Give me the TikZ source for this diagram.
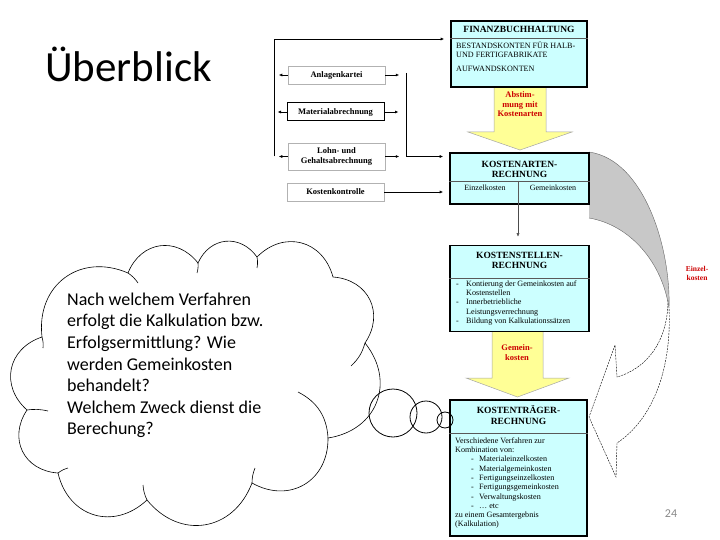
\documentclass[tikz,border=0pt]{standalone}
\usepackage{fontspec}
\setmainfont{Liberation Serif}
\newfontfamily\calib{Carlito}
\usetikzlibrary{arrows.meta}
\definecolor{boxcyan}{RGB}{204,255,255}
\definecolor{arrowyellow}{RGB}{255,255,150}
\definecolor{labelred}{RGB}{204,0,0}
\definecolor{bandgray}{RGB}{200,200,200}
\definecolor{pagenum}{RGB}{137,137,137}
\begin{document}
\begin{tikzpicture}[x=1pt,y=-1pt,
  bigbox/.style={draw=black, line width=1.6pt, fill=boxcyan, inner sep=0pt},
  smallbox/.style={draw=gray!60, line width=0.5pt, fill=white, minimum width=97pt,
     align=center, inner sep=0pt, font=\fontsize{8.5}{9.8}\selectfont\bfseries},
  conn/.style={line width=0.7pt, -{Latex[length=3.5pt,width=3pt]}},
  plainline/.style={line width=0.7pt},
  sepline/.style={line width=0.5pt, draw=gray!70!black},
  titletext/.style={font=\fontsize{9.5}{10.5}\selectfont\bfseries, align=center, inner sep=0pt},
  bodytext/.style={font=\fontsize{8.1}{9.3}\selectfont, align=left, inner sep=0pt, anchor=north west},
  redlabel/.style={font=\fontsize{8.5}{9.4}\selectfont\bfseries, text=labelred, align=center, inner sep=0pt, anchor=north},
  cloudline/.style={draw=black, line width=0.6pt},
  puff/.style={bend left=60, looseness=1.25}
]
\useasboundingbox (0,0) rectangle (720,540);

% title
\node[font=\calib\fontsize{43}{50}\selectfont, anchor=base west, inner sep=0pt] (title) at (45,82) {Überblick};

% cloud
\filldraw[cloudline, fill=white] (42,337) to[puff] (128,273) to[puff] (198,263)
  to[puff] (257,257) to[puff] (333,277) to[puff] (365,343)
  to[puff] (328,438) to[puff] (252,483) to[puff] (147,500)
  to[puff] (58,473) to[puff] (27,410) to[puff] (42,337) -- cycle;
\draw[cloudline] (42,337) to[bend left=10] (43,348);
\draw[cloudline] (128,273) to[bend left=10] (138,283);
\draw[cloudline] (198,263) to[bend left=10] (197,273);
\draw[cloudline] (257,257) to[bend left=10] (257,268);
\draw[cloudline] (365,343) to[bend left=15] (351,366);
\draw[cloudline] (298,392) to[bend left=30] (328,438);
\draw[cloudline] (252,483) to[bend left=10] (255,468);
\draw[cloudline] (147,500) to[bend left=10] (143,485);
\draw[cloudline] (58,473) to[bend left=10] (68,468);
\draw[cloudline] (27,410) to[bend left=10] (48,411);

\node[font=\calib\fontsize{18}{21.6}\selectfont, align=left, anchor=north west, inner sep=0pt] (question) at (67,290)
  {\strut Nach welchem Verfahren\\erfolgt die Kalkulation bzw.\\Erfolgsermittlung? Wie\\werden Gemeinkosten\\behandelt?\\Welchem Zweck dienst die\\Berechung?};

% curved band (Einzelkosten)
\fill[bandgray] (589,152) .. controls (645,160) and (671,250) .. (669,308)
  .. controls (662,262) and (630,225) .. (589,218) -- cycle;
\draw[line width=0.4pt, draw=gray!80!black] (589,152) .. controls (645,160) and (671,250) .. (669,308);
\draw[line width=0.4pt, draw=gray!80!black] (589,218) .. controls (630,225) and (662,262) .. (669,308);
\draw[line width=0.4pt, dash pattern=on 2pt off 1pt] (668,300) .. controls (668,340) and (648,368) .. (617,377)
  -- (615,345) -- (589,417) -- (616,477) -- (617,443) .. controls (652,420) and (672,370) .. (669,308);
\node[font=\fontsize{7.5}{9}\selectfont\bfseries, text=labelred, align=center, inner sep=0pt, anchor=north] (ek) at (697,266) {Einzel-\\kosten};

% yellow arrows
\fill[arrowyellow] (494,87) -- (494,132) -- (468,132) -- (520,150) -- (572,132) -- (546,132) -- (546,87) -- cycle;
\draw[line width=0.5pt, draw=gray!70] (494,87) -- (494,132) -- (468,132) -- (520,150) -- (572,132) -- (546,132) -- (546,87);
\node[redlabel] (abst) at (520,91) {\strut Abstim-\\mung mit\\Kostenarten};

\fill[arrowyellow] (492,332) -- (492,378) -- (466,378) -- (517.5,397) -- (569,378) -- (543,378) -- (543,332) -- cycle;
\draw[line width=0.5pt, draw=gray!70] (492,332) -- (492,378) -- (466,378) -- (517.5,397) -- (569,378) -- (543,378) -- (543,332);
\node[redlabel] (gk) at (517,344) {\strut Gemein-\\kosten};

% big boxes
\node[bigbox, minimum width=136pt, minimum height=66pt] (fb) at (519,54) {};
\node[bigbox, minimum width=139pt, minimum height=51pt] (ka) at (519.5,178.5) {};
\node[bigbox, minimum width=139pt, minimum height=86pt] (ks) at (519.5,288.5) {};
\node[bigbox, minimum width=137pt, minimum height=136pt] (kt) at (518.5,468) {};

\draw[sepline] (fb.west |- 0,38) -- (fb.east |- 0,38);
\draw[sepline] (ka.west |- 0,181) -- (ka.east |- 0,181);
\draw[sepline] (518,181) -- (518,204);
\draw[sepline] (ks.west |- 0,278) -- (ks.east |- 0,278);
\draw[sepline] (kt.west |- 0,433) -- (kt.east |- 0,433);

\node[titletext, anchor=base] (fbt) at (519,33) {FINANZBUCHHALTUNG};
\node[bodytext] (fbb) at (456,41.5) {\strut BESTANDSKONTEN FÜR HALB-\\UND FERTIGFABRIKATE};
\node[bodytext, anchor=base west] (fbc) at (456,72) {AUFWANDSKONTEN};

\node[titletext, anchor=north] (kat) at (519.5,159.5) {\strut KOSTENARTEN-\\RECHNUNG};
\node[font=\fontsize{8}{9}\selectfont, inner sep=0pt, anchor=base] (ez) at (485,191) {Einzelkosten};
\node[font=\fontsize{8}{9}\selectfont, inner sep=0pt, anchor=base] (gz) at (553,191) {Gemeinkosten};

\node[titletext, anchor=north] (kst) at (519.5,250.5) {\strut KOSTENSTELLEN-\\RECHNUNG};
\node[bodytext] (ksb) at (456,279.5) {\strut\makebox[10pt][l]{-}Kontierung der Gemeinkosten auf\\
  \hspace*{10pt}Kostenstellen\\
  \makebox[10pt][l]{-}Innerbetriebliche\\
  \hspace*{10pt}Leistungsverrechnung\\
  \makebox[10pt][l]{-}Bildung von Kalkulationssätzen};

\node[titletext, anchor=north] (ktt) at (518.5,405.5) {\strut KOSTENTRÄGER-\\RECHNUNG};
\node[bodytext] (ktb) at (455,436.5) {\strut Verschiedene Verfahren zur\\
  Kombination von:\\
  \hspace*{16pt}\makebox[8pt][l]{-}Materialeinzelkosten\\
  \hspace*{16pt}\makebox[8pt][l]{-}Materialgemeinkosten\\
  \hspace*{16pt}\makebox[8pt][l]{-}Fertigungseinzelkosten\\
  \hspace*{16pt}\makebox[8pt][l]{-}Fertigungsgemeinkosten\\
  \hspace*{16pt}\makebox[8pt][l]{-}Verwaltungskosten\\
  \hspace*{16pt}\makebox[8pt][l]{-}… etc\\
  zu einem Gesamtergebnis\\
  (Kalkulation)};

% small boxes on the left
\node[smallbox, minimum height=18pt] (ak) at (336.5,75) {Anlagenkartei};
\node[smallbox, draw=black, line width=1pt, minimum height=18pt] (ma) at (335.5,112) {Materialabrechnung};
\node[smallbox, minimum height=27pt] (lg) at (336.5,156.5) {Lohn- und\\Gehaltsabrechnung};
\node[smallbox, minimum height=18pt] (kk) at (335.5,192) {Kostenkontrolle};

% connectors
\coordinate (lt) at (274,39);
\coordinate (lb) at (lg.west -| lt);
\draw[plainline] (lb) -- (lt);
\draw[conn, shorten >=6pt] (lt) -- (lt -| fb.west);
\draw[conn] (ak.west) -- ++(-9,0);
\draw[conn] (ma.west) -- ++(-9,0);
\draw[conn] (lg.west) -- ++(-9,0);

\coordinate (rt) at (406,73);
\coordinate (rb) at (lg.east -| rt);
\draw[conn] (ak.east) -- ++(14,0);
\draw[conn] (ma.east) -- ++(14,0);
\draw[conn] (lg.east) -- ++(14,0);
\draw[plainline] (rt) -- (rb);
\draw[conn, shorten >=6pt] (rb) -- (rb -| ka.west);
\draw[conn, shorten >=6pt] (kk.east) -- (kk.east -| ka.west);
\draw[line width=0.5pt, draw=gray!60!black, -{Latex[length=3.5pt,width=3pt]}, shorten >=8pt] (518,204) -- (ks.north -| 518,0);

% thought bubbles
\coordinate (b1) at (393,413);
\coordinate (b2) at (426,417);
\coordinate (b3) at (445,420);
\draw[black, line width=0.8pt] (b1) circle[radius=24pt];
\draw[black, line width=0.8pt] (b2) circle[radius=16pt];
\draw[black, line width=0.8pt] (b3) circle[radius=8pt];

% page number
\node[font=\calib\fontsize{12}{14}\selectfont, text=pagenum, inner sep=0pt] (pg) at (671,514) {24};
\end{tikzpicture}
\end{document}
